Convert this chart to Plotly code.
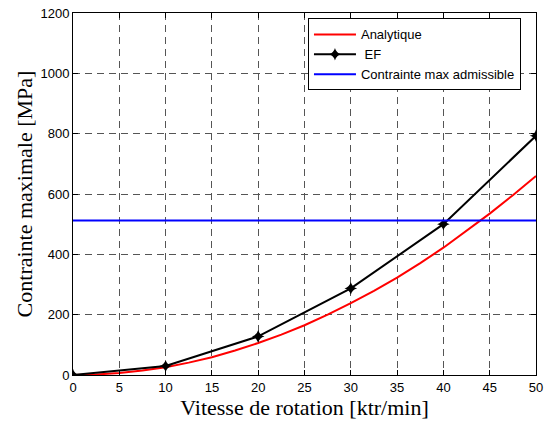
import plotly.graph_objects as go

# Data
x_analytique = [0, 2.5, 5, 7.5, 10, 12.5, 15, 17.5, 20, 22.5, 25, 27.5, 30, 32.5, 35, 37.5, 40, 42.5, 45, 47.5, 50]
y_analytique = [0, 1.7, 6.6, 15, 26, 41, 59, 81, 106, 134, 165, 200, 238, 279, 323, 371, 422, 477, 535, 596, 660]
x_ef = [0, 10, 20, 30, 40, 50]
y_ef = [0, 30, 128, 287, 500, 793]
x_limite = [0, 50]
y_limite = [512, 512]
x_ticks = [0, 5, 10, 15, 20, 25, 30, 35, 40, 45, 50]
y_ticks = [0, 200, 400, 600, 800, 1000, 1200]

fig = go.Figure()
fig.add_trace(go.Scatter(x=x_analytique, y=y_analytique, mode="lines", name="Analytique",
                         line=dict(color="#ff0000", width=2)))
fig.add_trace(go.Scatter(x=x_ef, y=y_ef, mode="lines+markers", name=" EF",
                         line=dict(color="#000000", width=2),
                         marker=dict(symbol="star-diamond", size=9, color="#000000")))
fig.add_trace(go.Scatter(x=x_limite, y=y_limite, mode="lines", name="Contrainte max admissible",
                         line=dict(color="#0000ff", width=2)))

axis_common = dict(
    showline=True, linecolor="black", linewidth=1, mirror="ticks",
    ticks="inside", ticklen=5, tickcolor="black", tickwidth=1,
    showgrid=True, gridcolor="#555555", gridwidth=1, griddash="7px,5px",
    zeroline=False, ticklabeloverflow="allow",
    tickfont=dict(family="Liberation Sans, Arial", size=13, color="black"),
)

fig.update_xaxes(range=[0, 50], tickvals=x_ticks, automargin="height", **axis_common,
                 title=dict(text="Vitesse de rotation [ktr/min]", standoff=3,
                            font=dict(family="Liberation Serif", size=22, color="black")))
fig.update_yaxes(range=[0, 1200], tickvals=y_ticks, automargin="width", **axis_common,
                 title=dict(text="Contrainte maximale [MPa]", standoff=1,
                            font=dict(family="Liberation Serif", size=22, color="black")))

fig.update_layout(
    width=545, height=421,
    margin=dict(l=73, r=9, t=13, b=46),
    paper_bgcolor="white", plot_bgcolor="white",
    showlegend=True,
    legend=dict(x=0.5075, y=0.985, xanchor="left", yanchor="top",
                bgcolor="white", bordercolor="black", borderwidth=1,
                font=dict(family="Liberation Sans, Arial", size=13, color="black"),
                tracegroupgap=0, itemwidth=42),
)

fig.write_html(
    "out.html",
    config={"displayModeBar": False},
    post_script="document.body.style.margin='0';document.body.style.overflow='hidden';",
)
